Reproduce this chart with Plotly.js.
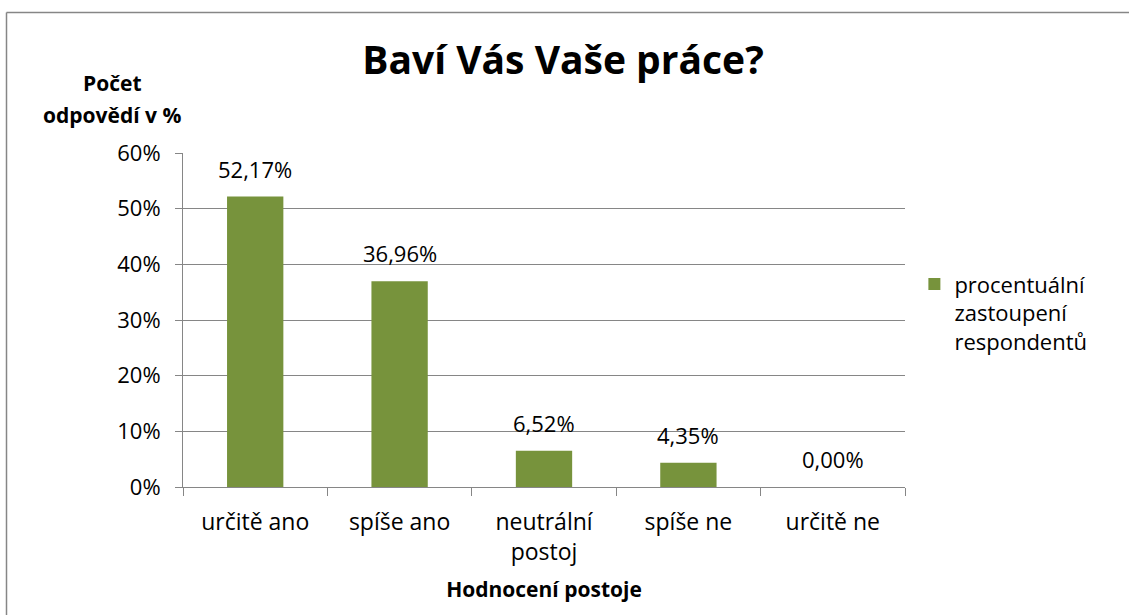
<!DOCTYPE html>
<html>
<head>
<meta charset="utf-8">
<script src="https://cdn.plot.ly/plotly-3.0.1.min.js"></script>
<style>html,body{margin:0;padding:0;background:#fff;}#chart{width:1129px;height:615px;}</style>
</head>
<body>
<div id="chart"></div>
<script>
const categories = ["určitě ano", "spíše ano", "neutrální<br>postoj", "spíše ne", "určitě ne"];
const values = [0.5217, 0.3696, 0.0652, 0.0435, 0.0];
const valueLabels = ["52,17%", "36,96%", "6,52%", "4,35%", "0,00%"];
const seriesName = "procentuální<br>zastoupení<br>respondentů";
const titleText = "Baví Vás Vaše práce?";
const yTitleLines = ["Počet", "odpovědí v %"];
const xTitleText = "Hodnocení postoje";

const FONT = "Open Sans, sans-serif";
const GRID = "#868686";

const trace = {
  type: "bar",
  x: categories,
  y: values,
  name: seriesName,
  marker: {color: "#77933C"},
  hoverinfo: "none"
};

const annotations = categories.map((c, i) => ({
  x: c, y: values[i], xref: "x", yref: "y",
  text: valueLabels[i], showarrow: false,
  yanchor: "bottom", yshift: 11,
  font: {family: FONT, size: 22, color: "#000"}
}));
annotations.push({
  xref: "paper", yref: "paper", x: -0.098, y: 1.21, xanchor: "center", yanchor: "middle",
  text: "<b>" + yTitleLines[0] + "</b>", showarrow: false,
  font: {family: FONT, size: 21, color: "#000"}
});
annotations.push({
  xref: "paper", yref: "paper", x: -0.098, y: 1.113, xanchor: "center", yanchor: "middle",
  text: "<b>" + yTitleLines[1] + "</b>", showarrow: false,
  font: {family: FONT, size: 21, color: "#000"}
});

const layout = {
  width: 1129, height: 615,
  margin: {l: 183, r: 224, t: 153, b: 128},
  paper_bgcolor: "#fff", plot_bgcolor: "#fff",
  separators: ", ",
  font: {family: FONT, size: 22, color: "#000"},
  title: {
    text: "<b>" + titleText + "</b>",
    font: {family: FONT, size: 39, color: "#000"},
    x: 563 / 1129, xanchor: "center", xref: "container",
    y: 1 - 60 / 615, yanchor: "middle", yref: "container"
  },
  bargap: 0.61,
  showlegend: true,
  legend: {
    x: 1.013, y: 0.67, xanchor: "left", yanchor: "top",
    valign: "top",
    font: {family: FONT, size: 22, color: "#000"},
    itemwidth: 30, tracegroupgap: 0
  },
  xaxis: {
    type: "category",
    showgrid: false, zeroline: false,
    showline: true, linecolor: GRID, linewidth: 1,
    ticks: "outside", tickson: "boundaries", ticklen: 8, tickcolor: GRID,
    tickfont: {family: FONT, size: 23, color: "#000"},
    ticklabelstandoff: 14,
    title: {text: "<b>" + xTitleText + "</b>", font: {family: FONT, size: 21, color: "#000"}, standoff: 16}
  },
  yaxis: {
    range: [0, 0.6], dtick: 0.1, tickformat: ".0%",
    showgrid: true, gridcolor: GRID, gridwidth: 1,
    zeroline: false,
    showline: true, linecolor: GRID, linewidth: 1,
    ticks: "outside", ticklen: 7, tickcolor: GRID,
    tickfont: {family: FONT, size: 22, color: "#000"},
    ticklabelstandoff: 10
  },
  annotations: annotations,
  shapes: [
    {type: "line", xref: "paper", yref: "paper",
     x0: (6.5 - 183) / 722, x1: (1129 - 183) / 722,
     y0: (487 - 12.5) / 334, y1: (487 - 12.5) / 334,
     line: {color: "#868686", width: 1.5}},
    {type: "line", xref: "paper", yref: "paper",
     x0: (6.5 - 183) / 722, x1: (6.5 - 183) / 722,
     y0: (487 - 12.5) / 334, y1: (487 - 615) / 334,
     line: {color: "#868686", width: 1.5}}
  ]
};

Plotly.newPlot("chart", [trace], layout, {displayModeBar: false, staticPlot: true});
</script>
</body>
</html>
